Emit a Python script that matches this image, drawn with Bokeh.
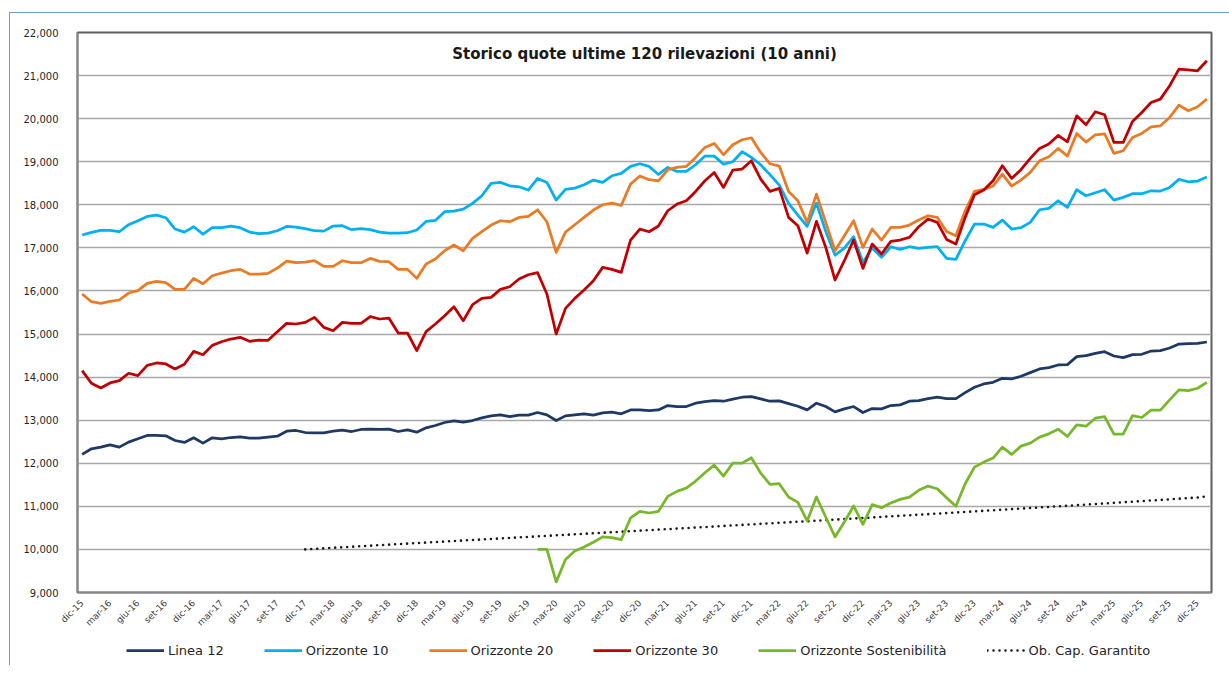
import math
from bokeh.plotting import figure
from bokeh.layouts import column
from bokeh.models import Range1d, FixedTicker, NumeralTickFormatter, Legend, LegendItem, Label, ColumnDataSource
from bokeh.embed import file_html
from bokeh.resources import INLINE

# ---------------- data ----------------
periods = (
    ["dic-15"]
    + ["gen-16", "feb-16", "mar-16", "apr-16", "mag-16", "giu-16", "lug-16", "ago-16", "set-16", "ott-16", "nov-16", "dic-16"]
    + ["gen-17", "feb-17", "mar-17", "apr-17", "mag-17", "giu-17", "lug-17", "ago-17", "set-17", "ott-17", "nov-17", "dic-17"]
    + ["gen-18", "feb-18", "mar-18", "apr-18", "mag-18", "giu-18", "lug-18", "ago-18", "set-18", "ott-18", "nov-18", "dic-18"]
    + ["gen-19", "feb-19", "mar-19", "apr-19", "mag-19", "giu-19", "lug-19", "ago-19", "set-19", "ott-19", "nov-19", "dic-19"]
    + ["gen-20", "feb-20", "mar-20", "apr-20", "mag-20", "giu-20", "lug-20", "ago-20", "set-20", "ott-20", "nov-20", "dic-20"]
    + ["gen-21", "feb-21", "mar-21", "apr-21", "mag-21", "giu-21", "lug-21", "ago-21", "set-21", "ott-21", "nov-21", "dic-21"]
    + ["gen-22", "feb-22", "mar-22", "apr-22", "mag-22", "giu-22", "lug-22", "ago-22", "set-22", "ott-22", "nov-22", "dic-22"]
    + ["gen-23", "feb-23", "mar-23", "apr-23", "mag-23", "giu-23", "lug-23", "ago-23", "set-23", "ott-23", "nov-23", "dic-23"]
    + ["gen-24", "feb-24", "mar-24", "apr-24", "mag-24", "giu-24", "lug-24", "ago-24", "set-24", "ott-24", "nov-24", "dic-24"]
    + ["gen-25", "feb-25", "mar-25", "apr-25", "mag-25", "giu-25", "lug-25", "ago-25", "set-25", "ott-25", "nov-25", "dic-25"]
    + ["gen-26"]
)

linea_12 = [
    12205, 12336, 12374, 12428, 12374, 12490, 12568, 12645, 12645, 12637, 12529, 12483,
    12591, 12467, 12591, 12568, 12598, 12614, 12583, 12583, 12606, 12629, 12745, 12761,
    12714, 12707, 12707, 12745, 12768, 12737, 12784, 12792, 12784, 12792, 12737, 12776,
    12722, 12822, 12876, 12946, 12985, 12954, 12992, 13054, 13100, 13124, 13085, 13116,
    13116, 13178, 13124, 12992, 13100, 13124, 13147, 13116, 13170, 13185, 13147, 13239,
    13239, 13224, 13239, 13340, 13317, 13317, 13394, 13432, 13456, 13440, 13487, 13533,
    13548, 13494, 13440, 13448, 13386, 13324, 13239, 13394, 13317, 13193, 13263, 13317,
    13178, 13270, 13263, 13340, 13355, 13440, 13456, 13502, 13533, 13502, 13502, 13641,
    13764, 13842, 13880, 13973, 13958, 14019, 14104, 14189, 14220, 14282, 14290, 14475,
    14498, 14552, 14591, 14490, 14452, 14521, 14529, 14606, 14614, 14676, 14768, 14776,
    14784, 14815,
]

orizzonte_10 = [
    17298, 17360, 17406, 17406, 17375, 17538, 17630, 17731, 17762, 17700, 17437, 17367,
    17491, 17321, 17468, 17468, 17507, 17468, 17367, 17329, 17344, 17398, 17499, 17483,
    17445, 17398, 17390, 17507, 17514, 17422, 17445, 17422, 17367, 17344, 17344, 17352,
    17414, 17615, 17638, 17839, 17855, 17901, 18033, 18210, 18497, 18520, 18442, 18419,
    18342, 18613, 18520, 18110, 18357, 18388, 18466, 18574, 18520, 18674, 18729, 18891,
    18953, 18891, 18705, 18868, 18775, 18775, 18930, 19131, 19131, 18945, 19000, 19231,
    19100, 18930, 18700, 18458, 18033, 17762, 17500, 18040, 17380, 16830, 16996, 17259,
    16663, 16996, 16780, 17027, 16965, 17027, 16988, 17012, 17027, 16756, 16733, 17166,
    17553, 17553, 17476, 17646, 17437, 17468, 17592, 17885, 17916, 18094, 17940, 18350,
    18210, 18280, 18350, 18110, 18172, 18257, 18257, 18326, 18319, 18404, 18590, 18535,
    18551, 18643,
]

orizzonte_20 = [
    15929, 15751, 15712, 15759, 15790, 15952, 16006, 16176, 16223, 16192, 16037, 16037,
    16292, 16169, 16354, 16416, 16470, 16501, 16393, 16393, 16408, 16532, 16694, 16656,
    16671, 16702, 16571, 16571, 16702, 16656, 16656, 16756, 16687, 16679, 16501, 16501,
    16292, 16625, 16741, 16934, 17066, 16934, 17220, 17375, 17530, 17630, 17607, 17708,
    17731, 17885, 17607, 16896, 17367, 17538, 17708, 17878, 18001, 18040, 17986, 18481,
    18667, 18582, 18558, 18813, 18868, 18891, 19100, 19332, 19425, 19162, 19394, 19510,
    19556, 19216, 18953, 18899, 18311, 18094, 17592, 18249, 17592, 16934, 17282, 17630,
    17012, 17437, 17182, 17476, 17476, 17530, 17646, 17746, 17708, 17383, 17282, 17862,
    18311, 18357, 18435, 18713, 18435, 18574, 18752, 19022, 19115, 19309, 19131, 19657,
    19456, 19626, 19649, 19193, 19254, 19564, 19657, 19811, 19834, 20028, 20314, 20183,
    20275, 20453,
]

orizzonte_30 = [
    14151, 13857, 13749, 13865, 13919, 14089, 14035, 14274, 14328, 14305, 14189, 14297,
    14598, 14521, 14737, 14822, 14884, 14923, 14830, 14861, 14853, 15055, 15248, 15233,
    15271, 15387, 15155, 15078, 15271, 15248, 15248, 15403, 15349, 15372, 15024, 15024,
    14614, 15055, 15233, 15426, 15635, 15310, 15681, 15828, 15852, 16037, 16099, 16277,
    16377, 16424, 15929, 15001, 15596, 15828, 16022, 16238, 16548, 16501, 16432, 17182,
    17437, 17375, 17507, 17862, 18017, 18094, 18311, 18559, 18752, 18404, 18806, 18829,
    19022, 18597, 18311, 18381, 17708, 17514, 16880, 17615, 17012, 16254, 16702, 17182,
    16524, 17089, 16857, 17151, 17182, 17244, 17491, 17669, 17592, 17197, 17089, 17708,
    18234, 18342, 18559, 18906, 18613, 18814, 19077, 19309, 19409, 19610, 19463, 20066,
    19858, 20159, 20090, 19448, 19448, 19935, 20144, 20376, 20453, 20763, 21149, 21134,
    21111, 21343,
]

# Orizzonte Sostenibilita starts in gen-20
orizzonte_sost = [None] * 49 + [
    10000, 10000, 9247, 9764, 9965, 10058, 10166, 10290, 10274, 10228, 10730,
    10884, 10846, 10884, 11232, 11347, 11425, 11587, 11780, 11958, 11703, 12004, 12004,
    12127, 11772, 11510, 11525, 11216, 11093, 10660, 11216, 10753, 10290, 10637, 11008,
    10583, 11039, 10969, 11077, 11162, 11216, 11371, 11471, 11409, 11201, 11000, 11525,
    11911, 12027, 12120, 12375, 12205, 12398, 12468, 12606, 12683, 12791, 12622, 12892,
    12861, 13046, 13085, 12676, 12676, 13108, 13062, 13232, 13232, 13471, 13703, 13687,
    13741, 13880,
]

# Obiettivo capitale garantito starts in dic-17
ob_cap_garantito = [None] * 24 + [
    10000, 10013, 10025, 10038, 10050, 10062, 10075, 10087, 10099, 10111, 10123, 10135,
    10147, 10159, 10171, 10183, 10195, 10207, 10219, 10231, 10243, 10255, 10267, 10279,
    10291, 10303, 10315, 10327, 10339, 10351, 10363, 10375, 10387, 10399, 10411, 10423,
    10436, 10448, 10460, 10472, 10484, 10496, 10508, 10520, 10532, 10545, 10557, 10569,
    10581, 10594, 10606, 10618, 10630, 10643, 10655, 10668, 10680, 10692, 10705, 10717,
    10730, 10742, 10755, 10768, 10780, 10793, 10806, 10818, 10831, 10844, 10857, 10870,
    10883, 10896, 10909, 10922, 10935, 10948, 10961, 10974, 10987, 11001, 11014, 11027,
    11041, 11054, 11068, 11081, 11095, 11108, 11122, 11136, 11149, 11163, 11177, 11191,
    11205, 11230,
]

y_ticks = [9000, 10000, 11000, 12000, 13000, 14000, 15000, 16000, 17000, 18000, 19000, 20000, 21000, 22000]
title_text = "Storico quote ultime 120 rilevazioni (10 anni)"

series_names = ["Linea 12", "Orizzonte 10", "Orizzonte 20", "Orizzonte 30",
                "Orizzonte Sostenibilità", "Ob. Cap. Garantito"]

# ---------------- styles ----------------
FONT = "DejaVu Sans"
LW = 2.75
styles_by_key = {
    "l12": dict(line_color="#1F3864", line_width=LW, line_join="round"),
    "o10": dict(line_color="#00B0F0", line_width=LW, line_join="round"),
    "o20": dict(line_color="#EA7B24", line_width=LW, line_join="round"),
    "o30": dict(line_color="#C00000", line_width=LW, line_join="round"),
    "sost": dict(line_color="#77B82A", line_width=LW, line_join="round"),
    "ob": dict(line_color="#1A1A1A", line_width=2.6, line_dash="0 6", line_cap="round"),
}
keys = ["l12", "o10", "o20", "o30", "sost", "ob"]

def clean(vals):
    return [float("nan") if v is None else v for v in vals]

idx = list(range(len(periods)))
src = ColumnDataSource(dict(
    x=idx,
    l12=clean(linea_12),
    o10=clean(orizzonte_10),
    o20=clean(orizzonte_20),
    o30=clean(orizzonte_30),
    sost=clean(orizzonte_sost),
    ob=clean(ob_cap_garantito),
))

# ---------------- main figure ----------------
p = figure(
    width=1219, height=622,
    x_range=Range1d(-0.5, len(periods) - 0.5),
    y_range=Range1d(y_ticks[0], y_ticks[-1]),
    output_backend="svg", toolbar_location=None,
    min_border_left=67, min_border_right=18, min_border_top=19, min_border_bottom=43,
    background_fill_color="white", border_fill_color="white",
)

p.outline_line_color = "#5F5F5F"
p.outline_line_width = 2

p.xgrid.grid_line_color = None
p.ygrid.grid_line_color = "#A8A8A8"
p.ygrid.grid_line_width = 1.5
p.ygrid.ticker = FixedTicker(ticks=y_ticks)

p.yaxis.ticker = FixedTicker(ticks=y_ticks)
p.yaxis.formatter = NumeralTickFormatter(format="0,0")
p.yaxis.major_label_text_font = FONT
p.yaxis.major_label_text_font_size = "10px"
p.yaxis.major_label_text_color = "#262626"
p.yaxis.major_tick_line_color = None
p.yaxis.minor_tick_line_color = None
p.yaxis.major_label_standoff = 13
p.yaxis.axis_line_color = "#878787"
p.yaxis.axis_line_width = 1.5

p.xaxis.ticker = FixedTicker(ticks=list(range(0, len(periods), 3)))
p.xaxis.major_label_overrides = {i: periods[i] for i in range(0, len(periods), 3)}
p.xaxis.major_label_orientation = math.pi / 4
p.xaxis.major_label_text_font = FONT
p.xaxis.major_label_text_font_size = "9px"
p.xaxis.major_label_text_color = "#404040"
p.xaxis.major_tick_line_color = None
p.xaxis.minor_tick_line_color = None
p.xaxis.major_label_standoff = 3
p.xaxis.axis_line_color = "#878787"
p.xaxis.axis_line_width = 1.5

for k in ["ob", "sost", "l12", "o10", "o20", "o30"]:
    p.line("x", k, source=src, **styles_by_key[k])

title = Label(x=60.5, y=21510, text=title_text, text_align="center", text_baseline="middle",
              text_font=FONT, text_font_style="bold", text_font_size="15px",
              text_color="#1A1A1A")
p.add_layout(title)

# ---------------- legend strip (separate small figure) ----------------
lg = figure(
    width=1219, height=30,
    x_range=Range1d(0, 1), y_range=Range1d(0, 1),
    x_axis_type=None, y_axis_type=None,
    output_backend="svg", toolbar_location=None,
    min_border=0, outline_line_color=None,
    background_fill_color="white", border_fill_color="white",
)
lg.xgrid.grid_line_color = None
lg.ygrid.grid_line_color = None
# sample-only source placed outside the visible range, so only the legend swatches show
swatch = ColumnDataSource(dict(x=[-5, -4], y=[-5, -5]))
items = []
for k, name in zip(keys, series_names):
    r = lg.line("x", "y", source=swatch, **styles_by_key[k])
    items.append(LegendItem(label=name, renderers=[r]))

legend = Legend(
    items=items,
    orientation="horizontal",
    location=(49, 5),
    glyph_width=38, glyph_height=20, label_height=20,
    label_standoff=4, spacing=40, padding=5, margin=0,
    label_text_font=FONT, label_text_font_size="13px", label_text_color="#262626",
    border_line_color=None, background_fill_alpha=0,
)
lg.add_layout(legend)

layout = column(p, lg, spacing=0,
                styles={"margin-top": "12px", "margin-left": "9px",
                        "border-top": "1px solid #7399D2", "border-left": "1px solid #7399D2"})

open("out.html", "w").write(file_html(layout, INLINE))
